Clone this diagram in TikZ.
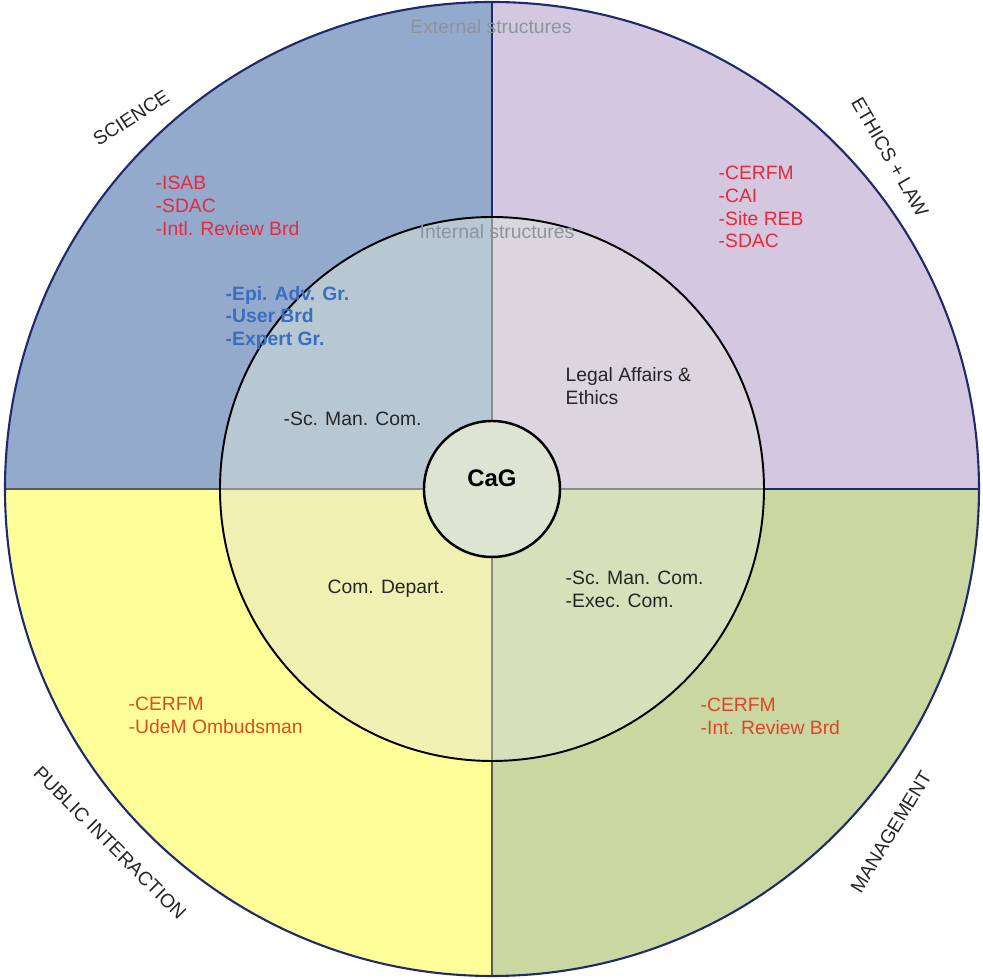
\documentclass[tikz,border=0pt]{standalone}
\usepackage{fontspec}
\setmainfont{Liberation Sans}

\definecolor{sciout}{HTML}{94AACC}
\definecolor{sciin}{HTML}{B8C8D2}
\definecolor{ethout}{HTML}{D4C8E0}
\definecolor{ethin}{HTML}{DAD5DE}
\definecolor{pubout}{HTML}{FFFF99}
\definecolor{pubin}{HTML}{F0F0B2}
\definecolor{manout}{HTML}{C8D8A0}
\definecolor{manin}{HTML}{D6E0BA}
\definecolor{cagfill}{HTML}{DEE4D2}
\definecolor{navy}{HTML}{1F2A6E}
\definecolor{ringgray}{HTML}{8C949C}
\definecolor{listred}{HTML}{E8283C}
\definecolor{listorange}{HTML}{E04A22}
\definecolor{listblue}{HTML}{3A6EC0}

\begin{document}
\begin{tikzpicture}[>=latex,
  every node/.style={font=\fontsize{5.5}{6.5}\selectfont,inner sep=0pt},
  ring/.style={text=ringgray},
  sector/.style={text=black!85},
  extlist/.style={align=left,anchor=west},
  intlist/.style={align=left,anchor=west,text=black!85}]
\useasboundingbox (-4.92,-4.90) rectangle (4.91,4.89);
\def\Rout{4.87}
\def\Rin{2.72}
\def\Rcag{0.68}
% quadrants, outer and inner ring
\foreach \a/\co/\ci in {90/sciout/sciin,0/ethout/ethin,180/pubout/pubin,270/manout/manin}{
	\fill[\co] (0,0) -- (\a:\Rout) arc[start angle=\a,delta angle=90,radius=\Rout] -- cycle;
	\fill[\ci] (0,0) -- (\a:\Rin) arc[start angle=\a,delta angle=90,radius=\Rin] -- cycle;
}
\draw[navy,line width=0.6pt] (0,\Rin) -- (0,\Rout);
\draw[navy,line width=0.6pt] (\Rin,0) -- (\Rout,0);
\draw[black!65,line width=0.5pt] (-\Rout,0) -- (-\Rin,0);
\draw[black!65,line width=0.5pt] (0,-\Rout) -- (0,-\Rin);
\draw[black!45,line width=0.5pt] (-\Rin,0) -- (\Rin,0);
\draw[black!45,line width=0.5pt] (0,-\Rin) -- (0,\Rin);
\draw[navy,line width=0.6pt] (0,0) circle (\Rout);
\draw[black,line width=0.55pt] (0,0) circle (\Rin);
\draw[black,line width=0.7pt,fill=cagfill] (0,0) circle (\Rcag);

\node[ring] (external) at (-0.01,4.62) {External structures};
\node[ring] (internal) at (0.05,2.57) {Internal structures};

% sector names
\node[sector,rotate=33] (science) at (-3.61,3.71) {SCIENCE};
\node[sector,rotate=-60] (ethics) at (3.98,3.32) {ETHICS + LAW};
\node[sector,rotate=-45] (public) at (-3.82,-3.54) {PUBLIC INTERACTION};
\node[sector,rotate=59] (management) at (3.99,-3.43) {MANAGEMENT};

% external bodies
\node[extlist,text=listred] (sciext) at (-3.37,2.83) {-ISAB\\-SDAC\\-Intl. Review Brd};
\node[extlist,text=listred] (ethext) at (2.26,2.82) {-CERFM\\-CAI\\-Site REB\\-SDAC};
\node[extlist,text=listorange] (pubext) at (-3.64,-2.26) {-CERFM\\-UdeM Ombudsman};
\node[extlist,text=listorange!80!listred] (manext) at (2.08,-2.27) {-CERFM\\-Int. Review Brd};
\node[extlist,text=listblue,font=\fontsize{5.5}{6.5}\selectfont\bfseries] (sciadv) at (-2.67,1.71) {-Epi. Adv. Gr.\\-User Brd\\-Expert Gr.};

% internal bodies
\node[intlist] (sciint) at (-2.09,0.70) {-Sc. Man. Com.};
\node[intlist] (ethint) at (0.73,1.03) {Legal Affairs \&\\Ethics};
\node[intlist] (pubint) at (-1.65,-1.00) {Com. Depart.};
\node[intlist] (manint) at (0.73,-1.005) {-Sc. Man. Com.\\-Exec. Com.};

\node[font=\fontsize{6.8}{8}\selectfont\bfseries] (cag) at (0,0.11) {CaG};
\end{tikzpicture}
\end{document}
